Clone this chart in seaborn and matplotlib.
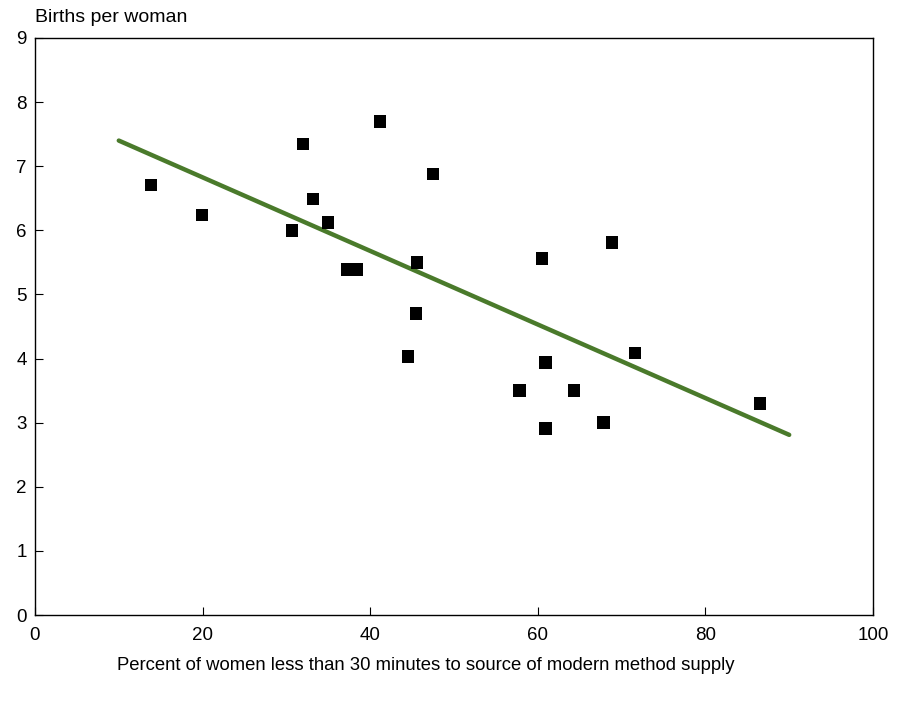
import matplotlib
matplotlib.use("Agg")
import matplotlib.pyplot as plt
import seaborn as sns
import pandas as pd

# Access to supply vs. fertility, one point per country survey
pct_within_30min = [13.87, 19.95, 30.69, 32.0, 33.2, 34.99, 37.29, 38.45, 41.19,
                    47.52, 45.61, 45.49, 44.53, 57.82, 60.53, 60.92, 60.92,
                    64.34, 67.84, 68.88, 71.62, 86.54]
births_per_woman = [6.71, 6.24, 6.0, 7.35, 6.49, 6.12, 5.39, 5.39, 7.70,
                    6.88, 5.50, 4.70, 4.03, 3.50, 5.56, 3.94, 2.91,
                    3.50, 3.0, 5.81, 4.09, 3.30]

# Fitted trend line endpoints
trend_x = [10, 90]
trend_y = [7.40, 2.81]

x_ticks = [0, 20, 40, 60, 80, 100]
y_ticks = [0, 1, 2, 3, 4, 5, 6, 7, 8, 9]

sns.set_theme(style="white")
plt.rcParams["font.family"] = ["Liberation Sans", "DejaVu Sans"]

pts = pd.DataFrame({"x": pct_within_30min, "y": births_per_woman})
trend = pd.DataFrame({"x": trend_x, "y": trend_y})

fig = plt.figure(figsize=(9.06, 7.02), dpi=100)
ax = fig.add_axes([35 / 906, 1 - 615 / 702, (873 - 35) / 906, (615 - 38) / 702])

sns.lineplot(data=trend, x="x", y="y", ax=ax, color="#4a7a2b", linewidth=3.2,
             solid_capstyle="round", zorder=2)
sns.scatterplot(data=pts, x="x", y="y", ax=ax, marker="s", s=80, color="black",
                edgecolor="none", linewidth=0, zorder=3)

ax.set_xlim(0, 100)
ax.set_ylim(0, 9)
ax.set_xticks(x_ticks)
ax.set_yticks(y_ticks)
ax.set_xticklabels([str(v) for v in x_ticks], fontsize=13.5)
ax.set_yticklabels([str(v) for v in y_ticks], fontsize=13.5)
ax.tick_params(axis="both", direction="in", length=6, width=0.8, color="black",
               bottom=True, left=True, top=False, right=False, labelcolor="black")
ax.tick_params(axis="x", pad=9)
ax.tick_params(axis="y", pad=6)
for sp in ax.spines.values():
    sp.set_visible(True)
    sp.set_color("black")
    sp.set_linewidth(1.0)

ax.set_xlabel("")
ax.set_ylabel("")
fig.text(35 / 906, 1 - 18 / 702, "Births per woman", fontsize=14,
         ha="left", va="center", color="black")
fig.text(426 / 906, 1 - 665 / 702,
         "Percent of women less than 30 minutes to source of modern method supply",
         fontsize=13.3, ha="center", va="center", color="black")

fig.savefig("out.png", dpi=100, facecolor="white")
